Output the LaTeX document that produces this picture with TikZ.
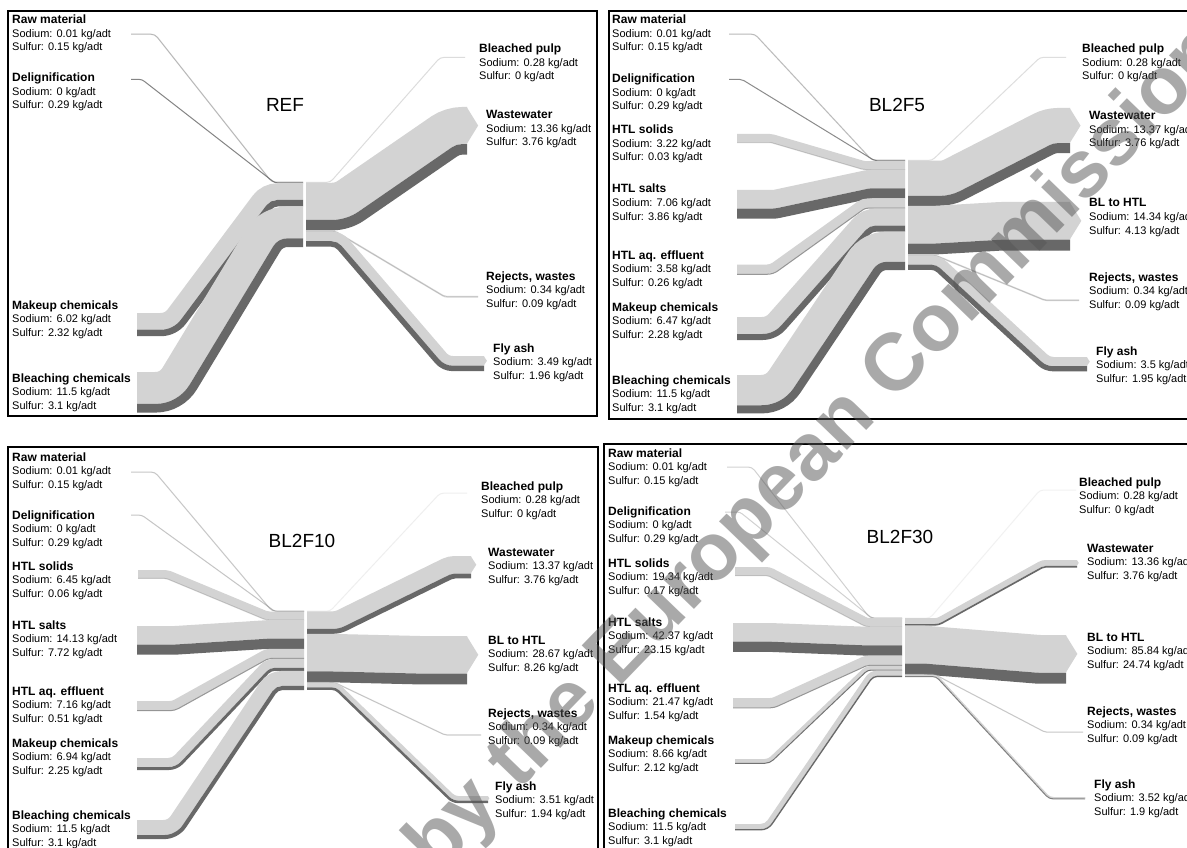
\documentclass[tikz,border=0pt]{standalone}
\usepackage{fontspec}
\setmainfont{Liberation Sans}
\definecolor{na}{RGB}{211,211,211}
\definecolor{su}{RGB}{104,104,104}
\definecolor{wmk}{RGB}{85,85,85}

\tikzset{
  panelbox/.style={draw=black,line width=1.6pt},
  lbl/.style={anchor=base west,inner sep=0pt,font=\fontsize{11}{13}\selectfont},
  lblhead/.style={lbl,font=\fontsize{12}{13}\selectfont\bfseries},
  ptitle/.style={inner sep=0pt,font=\fontsize{19}{19}\selectfont},
  wmark/.style={inner sep=0pt,text=wmk,opacity=0.5,font=\fontsize{81}{81}\selectfont\bfseries}
}

% current panel: scale (px per kg/adt), x of left and right centre columns,
% running top of the next band on each side
\newcommand\setpanel[4]{\gdef\sk{#1}\gdef\xL{#2}\gdef\xR{#3}\gdef\yL{#4}\gdef\yR{#4}}
\def\crad{8}

% one ribbon: #1 xA  #2 bundle top at left  #3 xB  #4 xC  #5 bundle top at right
% #6 xD  #7 depth of the band centre below the bundle top  #8 width  #9 colour
\newcommand\bandpath[9]{%
  \pgfmathtruncatemacro\bshow{(#8)>0.005}%
  \ifnum\bshow=1
  \pgfmathsetmacro\bdx{(#4)-(#3)}%
  \pgfmathsetmacro\bdy{(#5)-(#2)}%
  \pgfmathsetmacro\bL{100*sqrt((\bdx/100)*(\bdx/100)+(\bdy/100)*(\bdy/100))}%
  \pgfmathsetmacro\bt{abs(\bdy)/(\bL+(\bdx))}%
  \pgfmathsetmacro\bsg{((\bdy)>0)-((\bdy)<0)}%
  \pgfmathsetmacro\bux{(\bdx)/\bL}%
  \pgfmathsetmacro\buy{(\bdy)/\bL}%
  \pgfmathsetmacro\bBx{(#3)-(\bsg)*(#7)*\bt}%
  \pgfmathsetmacro\bBy{(#2)+(#7)}%
  \pgfmathsetmacro\bCx{(#4)-(\bsg)*(#7)*\bt}%
  \pgfmathsetmacro\bCy{(#5)+(#7)}%
  \pgfmathsetmacro\brB{(\bsg)<0 ? \crad+(#7) : \Wb+\crad-(#7)}%
  \pgfmathsetmacro\brB{max(\brB,0)}%
  \pgfmathsetmacro\brC{(\bsg)<0 ? \Wb+\crad-(#7) : \crad+(#7)}%
  \pgfmathsetmacro\brC{max(\brC,0)}%
  \pgfmathsetmacro\biB{\brB*\bt}%
  \pgfmathsetmacro\biC{\brC*\bt}%
  \pgfmathsetmacro\pAx{\bBx-\biB}%
  \pgfmathsetmacro\pBx{\bBx-0.38*\biB}%
  \pgfmathsetmacro\pCx{\bBx+0.38*\biB*(\bux)}%
  \pgfmathsetmacro\pCy{\bBy+0.38*\biB*(\buy)}%
  \pgfmathsetmacro\pDx{\bBx+\biB*(\bux)}%
  \pgfmathsetmacro\pDy{\bBy+\biB*(\buy)}%
  \pgfmathsetmacro\pEx{\bCx-\biC*(\bux)}%
  \pgfmathsetmacro\pEy{\bCy-\biC*(\buy)}%
  \pgfmathsetmacro\pFx{\bCx-0.38*\biC*(\bux)}%
  \pgfmathsetmacro\pFy{\bCy-0.38*\biC*(\buy)}%
  \pgfmathsetmacro\pGx{\bCx+0.38*\biC}%
  \pgfmathsetmacro\pHx{\bCx+\biC}%
  % hairline ribbons: full pixel width, faded in proportion
  \pgfmathsetmacro\bw{max(#8,1)}%
  \pgfmathsetmacro\bop{min(max(#8,0.3),1)}%
  \draw[line width=\bw pt,draw=#9,draw opacity=\bop]
    (#1,\bBy) -- (\pAx,\bBy) .. controls (\pBx,\bBy) and (\pCx,\pCy) .. (\pDx,\pDy)
    -- (\pEx,\pEy) .. controls (\pFx,\pFy) and (\pGx,\bCy) .. (\pHx,\bCy) -- (#6,\bCy);
  \fi}

% incoming flow: #1 xA #2 top at left #3 xB #4 xC #5 sodium #6 sulfur
\newcommand\lflow[6]{%
  \pgfmathsetmacro\bwa{(#5)*\sk}%
  \pgfmathsetmacro\bwb{(#6)*\sk}%
  \pgfmathsetmacro\Wb{\bwa+\bwb}%
  \pgfmathsetmacro\bda{\bwa/2}%
  \pgfmathsetmacro\bdb{\bwa+\bwb/2}%
  \bandpath{#1}{#2}{#3}{#4}{\yL}{\xL}{\bda}{\bwa}{na}%
  \bandpath{#1}{#2}{#3}{#4}{\yL}{\xL}{\bdb}{\bwb}{su}%
  \pgfmathsetmacro\bnew{\yL+\Wb}\global\let\yL\bnew}

% outgoing flow: #1 xB #2 xC #3 xD #4 top at right #5 sodium #6 sulfur #7 pointed end
\newcommand\rflow[7]{%
  \pgfmathsetmacro\bwa{(#5)*\sk}%
  \pgfmathsetmacro\bwb{(#6)*\sk}%
  \pgfmathsetmacro\Wb{\bwa+\bwb}%
  \pgfmathsetmacro\bda{\bwa/2}%
  \pgfmathsetmacro\bdb{\bwa+\bwb/2}%
  \bandpath{\xR}{\yR}{#1}{#2}{#4}{#3}{\bda}{\bwa}{na}%
  \bandpath{\xR}{\yR}{#1}{#2}{#4}{#3}{\bdb}{\bwb}{su}%
  \ifnum#7=1
    \fill[na] (#3-0.3,#4) -- (#3+0.3*\bwa,#4+\bwa/2) -- (#3-0.3,#4+\bwa) -- cycle;
  \fi
  \pgfmathsetmacro\bnew{\yR+\Wb}\global\let\yR\bnew}

% label block: #1 name #2 x #3 y of heading #4 heading #5 sodium #6 sulfur
\newcommand\lab[6]{%
  \node[lblhead] (#1) at (#2,#3+4) {#4};
  \node[lbl] (#1-na) at (#2,#3+17.5) {Sodium: #5 kg/adt};
  \node[lbl] (#1-s) at (#2,#3+31) {Sulfur: #6 kg/adt};}

\begin{document}
\begin{tikzpicture}[x=1pt,y=-1pt]
\useasboundingbox (0,0) rectangle (1187,848);
\clip (0,0) rectangle (1187,848);
\fill[white] (0,0) rectangle (1187,848);

% ---------------- REF ----------------
\draw[panelbox] (8,11) rectangle (597,416);
\setpanel{2.779}{303}{306}{182}
\lflow{131}{34}{155}{272}{0.01}{0.15}
\lflow{131}{79}{142}{275}{0}{0.29}
\lflow{137}{313}{165}{262}{6.02}{2.32}
\lflow{137}{372}{160}{260}{11.5}{3.1}
\rflow{330}{440}{465}{57}{0.28}{0}{0}
\rflow{335}{445}{467}{107}{13.36}{3.76}{1}
\rflow{335}{445}{478}{296}{0.34}{0.09}{0}
\rflow{342}{449}{484}{356}{3.49}{1.96}{1}
\node[ptitle] (ref-title) at (285,105) {REF};
\lab{ref-raw}{12}{20}{Raw material}{0.01}{0.15}
\lab{ref-del}{12}{78}{Delignification}{0}{0.29}
\lab{ref-mk}{12}{305}{Makeup chemicals}{6.02}{2.32}
\lab{ref-bl}{12}{378}{Bleaching chemicals}{11.5}{3.1}
\lab{ref-bp}{479}{49}{Bleached pulp}{0.28}{0}
\lab{ref-ww}{486}{115}{Wastewater}{13.36}{3.76}
\lab{ref-rj}{486}{276}{Rejects, wastes}{0.34}{0.09}
\lab{ref-fa}{493}{348}{Fly ash}{3.49}{1.96}

% ---------------- BL2F5 ----------------
\draw[panelbox] (609,11) rectangle (1195,419);
\setpanel{2.631}{905}{908}{160}
\lflow{729}{34}{755}{872}{0.01}{0.15}
\lflow{729}{79}{742}{875}{0}{0.29}
\lflow{737}{134}{772}{865}{3.22}{0.03}
\lflow{737}{190}{773}{868}{7.06}{3.86}
\lflow{737}{264.5}{770}{862}{3.58}{0.26}
\lflow{737}{317}{766}{862}{6.47}{2.28}
\lflow{737}{375}{766}{862}{11.5}{3.1}
\rflow{932}{1040}{1066}{57}{0.28}{0}{0}
\rflow{942}{1045}{1070}{108}{13.37}{3.76}{1}
\rflow{935}{1000}{1070}{202}{14.34}{4.13}{1}
\rflow{935}{1045}{1079}{299.5}{0.34}{0.09}{0}
\rflow{940}{1050}{1087}{357}{3.5}{1.95}{1}
\node[ptitle] (f5-title) at (897,105) {BL2F5};
\lab{f5-raw}{612}{20}{Raw material}{0.01}{0.15}
\lab{f5-del}{612}{79}{Delignification}{0}{0.29}
\lab{f5-hs}{612}{130}{HTL solids}{3.22}{0.03}
\lab{f5-hsa}{612}{189}{HTL salts}{7.06}{3.86}
\lab{f5-aq}{612}{255}{HTL aq. effluent}{3.58}{0.26}
\lab{f5-mk}{612}{307}{Makeup chemicals}{6.47}{2.28}
\lab{f5-bl}{612}{380}{Bleaching chemicals}{11.5}{3.1}
\lab{f5-bp}{1082}{49}{Bleached pulp}{0.28}{0}
\lab{f5-ww}{1089}{116}{Wastewater}{13.37}{3.76}
\lab{f5-bh}{1089}{203}{BL to HTL}{14.34}{4.13}
\lab{f5-rj}{1089}{277}{Rejects, wastes}{0.34}{0.09}
\lab{f5-fa}{1096}{351}{Fly ash}{3.5}{1.95}

% ---------------- BL2F10 ----------------
\draw[panelbox] (8,447) rectangle (598,860);
\setpanel{1.311}{304}{307}{611}
\lflow{131}{472}{155}{272}{0.01}{0.15}
\lflow{131}{515}{142}{275}{0}{0.29}
\lflow{138}{570}{168}{268}{6.45}{0.06}
\lflow{137}{626}{175}{268}{14.13}{7.72}
\lflow{137}{701}{172}{266}{7.16}{0.51}
\lflow{137}{758}{172}{266}{6.94}{2.25}
\lflow{137}{820}{168}{268}{11.5}{3.1}
\rflow{330}{440}{467}{493}{0.28}{0}{0}
\rflow{335}{448}{471}{556}{13.37}{3.76}{1}
\rflow{330}{420}{467}{636}{28.67}{8.26}{1}
\rflow{335}{445}{481}{734.5}{0.34}{0.09}{0}
\rflow{338}{455}{488}{796}{3.51}{1.94}{1}
\node[ptitle] (f10-title) at (302,541) {BL2F10};
\lab{f10-raw}{12}{457}{Raw material}{0.01}{0.15}
\lab{f10-del}{12}{515}{Delignification}{0}{0.29}
\lab{f10-hs}{12}{566}{HTL solids}{6.45}{0.06}
\lab{f10-hsa}{12}{625}{HTL salts}{14.13}{7.72}
\lab{f10-aq}{12}{691}{HTL aq. effluent}{7.16}{0.51}
\lab{f10-mk}{12}{743}{Makeup chemicals}{6.94}{2.25}
\lab{f10-bl}{12}{815}{Bleaching chemicals}{11.5}{3.1}
\lab{f10-bp}{481}{486}{Bleached pulp}{0.28}{0}
\lab{f10-ww}{488}{552}{Wastewater}{13.37}{3.76}
\lab{f10-bh}{488}{640}{BL to HTL}{28.67}{8.26}
\lab{f10-rj}{488}{713}{Rejects, wastes}{0.34}{0.09}
\lab{f10-fa}{495}{786}{Fly ash}{3.51}{1.94}

% ---------------- BL2F30 ----------------
\draw[panelbox] (604,444) rectangle (1195,860);
\setpanel{0.4407}{902}{905}{618}
\lflow{727}{467}{752}{870}{0.01}{0.15}
\lflow{725}{512}{740}{872}{0}{0.29}
\lflow{735}{567}{770}{868}{19.34}{0.17}
\lflow{733}{623}{770}{868}{42.37}{23.15}
\lflow{733}{698}{772}{865}{21.47}{1.54}
\lflow{735}{759}{768}{866}{8.66}{2.12}
\lflow{735}{824}{765}{870}{11.5}{3.1}
\rflow{930}{1040}{1076}{490}{0.28}{0}{0}
\rflow{937}{1042}{1077}{560}{13.36}{3.76}{1}
\rflow{925}{1040}{1066}{635}{85.84}{24.74}{1}
\rflow{935}{1045}{1083}{732}{0.34}{0.09}{0}
\rflow{937}{1050}{1085}{797}{3.52}{1.9}{1}
\node[ptitle] (f30-title) at (900,537) {BL2F30};
\lab{f30-raw}{608}{453}{Raw material}{0.01}{0.15}
\lab{f30-del}{608}{511}{Delignification}{0}{0.29}
\lab{f30-hs}{608}{563}{HTL solids}{19.34}{0.17}
\lab{f30-hsa}{608}{622}{HTL salts}{42.37}{23.15}
\lab{f30-aq}{608}{688}{HTL aq. effluent}{21.47}{1.54}
\lab{f30-mk}{608}{740}{Makeup chemicals}{8.66}{2.12}
\lab{f30-bl}{608}{813}{Bleaching chemicals}{11.5}{3.1}
\lab{f30-bp}{1079}{482}{Bleached pulp}{0.28}{0}
\lab{f30-ww}{1087}{548}{Wastewater}{13.36}{3.76}
\lab{f30-bh}{1087}{637}{BL to HTL}{85.84}{24.74}
\lab{f30-rj}{1087}{711}{Rejects, wastes}{0.34}{0.09}
\lab{f30-fa}{1094}{784}{Fly ash}{3.52}{1.9}

% ---------------- watermark ----------------
\node[wmark,rotate=46,anchor=base west] (watermark) at (437,876) {by the European Commission};
\end{tikzpicture}
\end{document}
